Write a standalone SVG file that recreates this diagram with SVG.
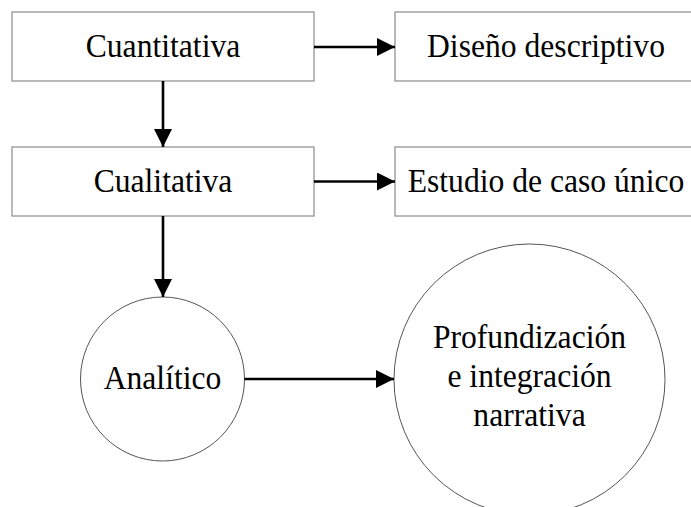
<svg xmlns="http://www.w3.org/2000/svg" width="691" height="507" viewBox="0 0 691 507">
  <style>
    .box { fill: #ffffff; stroke: #8c8c8c; stroke-width: 1.2; }
    .circ { fill: #ffffff; stroke: #555555; stroke-width: 1; }
    .lbl { font-family: "Liberation Serif", "Times New Roman", serif; font-size: 34px; fill: #000000; text-anchor: middle; }
    .conn { stroke: #000000; stroke-width: 2.6; fill: none; marker-end: url(#arrow); }
  </style>
  <defs>
    <marker id="arrow" markerUnits="userSpaceOnUse" markerWidth="18" markerHeight="18" refX="18" refY="9" orient="auto">
      <path d="M0,0 L18,9 L0,18 Z" fill="#000000"/>
    </marker>
  </defs>
  <rect width="691" height="507" fill="#ffffff"/>

  <g id="cuantitativa">
    <rect class="box" x="12" y="12" width="302" height="69"/>
    <g transform="translate(163,0) scale(0.93,1)"><text class="lbl" x="0" y="57">Cuantitativa</text></g>
  </g>
  <g id="diseno-descriptivo">
    <rect class="box" x="395" y="12" width="302" height="69"/>
    <g transform="translate(546,0) scale(0.93,1)"><text class="lbl" x="0" y="57">Diseño descriptivo</text></g>
  </g>
  <g id="cualitativa">
    <rect class="box" x="12" y="147" width="302" height="69"/>
    <g transform="translate(163,0) scale(0.93,1)"><text class="lbl" x="0" y="192">Cualitativa</text></g>
  </g>
  <g id="estudio-caso">
    <rect class="box" x="395" y="147" width="302" height="69"/>
    <g transform="translate(546,0) scale(0.93,1)"><text class="lbl" x="0" y="192">Estudio de caso único</text></g>
  </g>
  <g id="analitico">
    <circle class="circ" cx="162.5" cy="379" r="82"/>
    <g transform="translate(162.5,0) scale(0.93,1)"><text class="lbl" x="0" y="389">Analítico</text></g>
  </g>
  <g id="profundizacion">
    <circle class="circ" cx="529.5" cy="379.5" r="135.5"/>
    <g transform="translate(529.5,0) scale(0.93,1)">
      <text class="lbl" x="0" y="348.5">Profundización</text>
      <text class="lbl" x="0" y="387.5">e integración</text>
      <text class="lbl" x="0" y="426.5">narrativa</text>
    </g>
  </g>

  <g id="connectors">
    <line class="conn" x1="314" y1="47" x2="395" y2="47"/>
    <line class="conn" x1="163" y1="81" x2="163" y2="147"/>
    <line class="conn" x1="314" y1="181.5" x2="395" y2="181.5"/>
    <line class="conn" x1="163" y1="216" x2="163" y2="297"/>
    <line class="conn" x1="244.5" y1="379" x2="394" y2="379"/>
  </g>
</svg>
